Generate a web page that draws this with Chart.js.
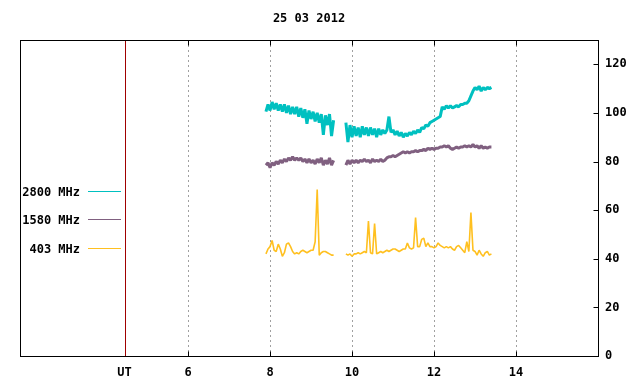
<!DOCTYPE html>
<html>
<head>
<meta charset="utf-8">
<script src="https://cdn.jsdelivr.net/npm/chart.js@4/dist/chart.umd.min.js"></script>
<style>
  html, body { margin: 0; padding: 0; background: #fff; }
  #wrap { width: 640px; height: 384px; }
</style>
</head>
<body>
<div id="wrap"><canvas id="radio"></canvas></div>
<script>
// Sample times (UT hours); 9.70 is the data gap
const hours = [
  7.90, 7.95, 8.00, 8.05, 8.10, 8.15, 8.20, 8.25, 8.30, 8.35,
  8.40, 8.45, 8.50, 8.55, 8.60, 8.65, 8.70, 8.75, 8.80, 8.85,
  8.90, 8.95, 9.00, 9.05, 9.10, 9.15, 9.20, 9.25, 9.30, 9.35,
  9.40, 9.45, 9.50, 9.55,
  9.70,
  9.85, 9.90, 9.95, 10.00, 10.05, 10.10, 10.15, 10.20, 10.25, 10.30,
  10.35, 10.40, 10.45, 10.50, 10.55, 10.60, 10.65, 10.70, 10.75, 10.80,
  10.85, 10.90, 10.95, 11.00, 11.05, 11.10, 11.15, 11.20, 11.25, 11.30,
  11.35, 11.40, 11.45, 11.50, 11.55, 11.60, 11.65, 11.70, 11.75, 11.80,
  11.85, 11.90, 11.95, 12.00, 12.05, 12.10, 12.15, 12.20, 12.25, 12.30,
  12.35, 12.40, 12.45, 12.50, 12.55, 12.60, 12.65, 12.70, 12.75, 12.80,
  12.85, 12.90, 12.95, 13.00, 13.05, 13.10, 13.15, 13.20, 13.25, 13.30,
  13.35, 13.40
];

const flux2800 = [
  100.5, 103.5, 101, 104.5, 101.5, 104, 101, 103.5, 100.5, 103.5,
  100, 103, 99.5, 102.5, 99.5, 102.5, 98.5, 102, 98, 101.5,
  95.5, 101, 97.5, 100.5, 96.5, 100, 96, 99.5, 91, 99,
  95, 99.5, 90.5, 97,
  null,
  96, 88, 95, 90, 94.5, 90.5, 94, 90, 94.5, 91,
  94, 90.5, 94, 91, 93.5, 90, 93.5, 91, 93, 91.5,
  93, 98.5, 92, 93, 91, 92.5, 90.5, 92, 90, 91.5,
  90.5, 92, 91, 92.5, 91.5, 93, 92, 94, 93.5, 95,
  94.5, 96, 96.5, 97, 97.5, 98, 98.5, 102.5, 101.5, 103,
  102, 103, 102, 102.5, 103, 102.5, 103.5, 103.5, 104, 104,
  105, 107, 109, 110.5, 109.5, 111, 109, 110.5, 109.5, 110.5,
  110, 110.5
];

const flux1580 = [
  78.5, 79.5, 77.5, 79.5, 78.5, 80, 79, 80.5, 79.5, 81,
  80, 81.5, 80.5, 82, 80.5, 81.5, 80.5, 81.5, 80, 81,
  79.5, 81, 79.5, 80.5, 79, 81, 79.5, 81.5, 78.5, 80.5,
  79, 81.5, 78.5, 80.5,
  null,
  78.5, 80.5, 79, 80.5, 79.5, 80.5, 79.5, 80.5, 80, 81,
  80, 80.5, 79.5, 81, 80, 80.5, 80, 81, 80, 80.5,
  81.5, 82, 82, 82.5, 82, 82.5, 83, 83.5, 84, 83.5,
  84, 83.5, 84, 84, 84.5, 84, 84.5, 84.5, 85, 84.5,
  85.5, 85, 85.5, 85, 85.5, 85.5, 86, 86, 86.5, 86,
  86.5, 85.5, 85, 85.5, 86, 85.5, 86, 86, 86.5, 86,
  86.5, 86, 87, 86, 86.5, 85.5, 86.5, 85.5, 86, 85.5,
  86, 86
];

const flux403 = [
  42, 44, 45, 47.5, 43.5, 43, 46, 44, 41, 42.5,
  46, 46.5, 45, 43, 42, 42.5, 42, 43, 43.5, 43,
  42.5, 43, 43.5, 43.5, 47, 68.5, 41.5, 42.5, 43, 43,
  42.5, 42, 41.5, 41.5,
  null,
  42, 41.5, 42, 41, 42, 42, 42.5, 42, 42.5, 43,
  42.5, 55.5, 42.5, 42, 54.5, 42, 42.5, 43, 42.5, 43,
  43.5, 43, 43.5, 44, 44, 43.5, 43, 43.5, 44, 44,
  46.5, 44.5, 44, 44.5, 57, 45, 45, 48, 48.5, 45,
  46.5, 45, 45, 44.5, 45, 46.5, 45.5, 45, 44.5, 45,
  44.5, 45, 44, 43.5, 45, 45.5, 44.5, 43.5, 42.5, 47,
  43, 59, 43.5, 43, 41.5, 43.5, 42, 41, 42.5, 43,
  41.5, 42
];

const seriesNames = ['2800 MHz', '1580 MHz', '403 MHz'];
const seriesColors = ['#00c0c0', '#806080', '#ffc020'];
const xTicks = [4.45, 6, 8, 10, 12, 14];   // 4.45 = "UT" marker
const utHour = 4.45;
const yTicks = [0, 20, 40, 60, 80, 100, 120];
const title = '25 03 2012';

const FONT = 'bold 12px "DejaVu Sans Mono", monospace';

function toPoints(vals) {
  return hours.map((h, i) => ({ x: h, y: vals[i] }));
}

// frame, grid, UT line, legend and title, gnuplot style
const gnuFrame = {
  id: 'gnuFrame',
  beforeDatasetsDraw(chart) {
    const { ctx, chartArea: a, scales: { x } } = chart;
    ctx.save();
    ctx.strokeStyle = '#a0a0a0';
    ctx.lineWidth = 1;
    ctx.setLineDash([2, 3]);
    xTicks.forEach(h => {
      if (h === utHour) return;
      const px = Math.round(x.getPixelForValue(h)) + 0.5;
      ctx.beginPath();
      ctx.moveTo(px, a.top);
      ctx.lineTo(px, a.bottom);
      ctx.stroke();
    });
    ctx.restore();
  },
  afterDraw(chart) {
    const { ctx, chartArea: a, scales: { x, y } } = chart;
    const L = Math.round(a.left) + 0.5, R = Math.round(a.right) + 0.5;
    const T = Math.round(a.top) + 0.5, B = Math.round(a.bottom) + 0.5;
    ctx.save();
    ctx.lineWidth = 1;
    ctx.setLineDash([]);

    // UT separator
    const ux = Math.round(x.getPixelForValue(utHour)) + 0.5;
    ctx.strokeStyle = '#a00000';
    ctx.beginPath();
    ctx.moveTo(ux, a.top);
    ctx.lineTo(ux, a.bottom);
    ctx.stroke();

    // border
    ctx.strokeStyle = '#000';
    ctx.strokeRect(L, T, R - L, B - T);

    // tick marks
    ctx.beginPath();
    xTicks.forEach(h => {
      if (h === utHour) return;
      const px = Math.round(x.getPixelForValue(h)) + 0.5;
      ctx.moveTo(px, B); ctx.lineTo(px, B - 5);
      ctx.moveTo(px, T); ctx.lineTo(px, T + 5);
    });
    yTicks.forEach(v => {
      const py = Math.round(y.getPixelForValue(v)) + 0.5;
      ctx.moveTo(R, py); ctx.lineTo(R - 5, py);
    });
    ctx.stroke();

    // legend
    ctx.font = FONT;
    ctx.textBaseline = 'middle';
    ctx.textAlign = 'right';
    const rows = [191.5, 219.5, 248.5];
    seriesNames.forEach((name, i) => {
      ctx.fillStyle = '#000';
      ctx.fillText(name, 80, rows[i] + 1);
      ctx.strokeStyle = seriesColors[i];
      ctx.beginPath();
      ctx.moveTo(88, rows[i]);
      ctx.lineTo(121, rows[i]);
      ctx.stroke();
    });

    // title
    ctx.fillStyle = '#000';
    ctx.textAlign = 'center';
    ctx.fillText(title, (a.left + a.right) / 2, 19);
    ctx.restore();
  }
};

new Chart(document.getElementById('radio').getContext('2d'), {
  type: 'line',
  data: {
    datasets: [
      { label: seriesNames[0], data: toPoints(flux2800), borderColor: seriesColors[0], borderWidth: 3 },
      { label: seriesNames[1], data: toPoints(flux1580), borderColor: seriesColors[1], borderWidth: 3 },
      { label: seriesNames[2], data: toPoints(flux403), borderColor: seriesColors[2], borderWidth: 1.6 }
    ]
  },
  options: {
    responsive: true,
    maintainAspectRatio: false,
    animation: false,
    spanGaps: false,
    layout: { padding: { top: 40, left: 20, right: 0, bottom: 0 } },
    elements: {
      line: { tension: 0, borderJoinStyle: 'bevel' },
      point: { radius: 0 }
    },
    scales: {
      x: {
        type: 'linear',
        min: 1.9,
        max: 16.0,
        afterBuildTicks: s => { s.ticks = xTicks.map(v => ({ value: v })); },
        afterFit: s => { s.height = 28; },
        grid: { display: false, drawTicks: false },
        border: { display: false },
        ticks: {
          color: '#000',
          font: { family: '"DejaVu Sans Mono", monospace', size: 12, weight: 'bold' },
          padding: 10,
          maxRotation: 0,
          autoSkip: false,
          callback: v => (v === utHour ? 'UT' : String(v))
        }
      },
      y: {
        position: 'right',
        min: 0,
        max: 130,
        afterBuildTicks: s => { s.ticks = yTicks.map(v => ({ value: v })); },
        afterFit: s => { s.width = 42; },
        grid: { display: false, drawTicks: false },
        border: { display: false },
        ticks: {
          color: '#000',
          font: { family: '"DejaVu Sans Mono", monospace', size: 12, weight: 'bold' },
          padding: 7
        }
      }
    },
    plugins: {
      legend: { display: false },
      tooltip: { enabled: false }
    }
  },
  plugins: [gnuFrame]
});
</script>
</body>
</html>
